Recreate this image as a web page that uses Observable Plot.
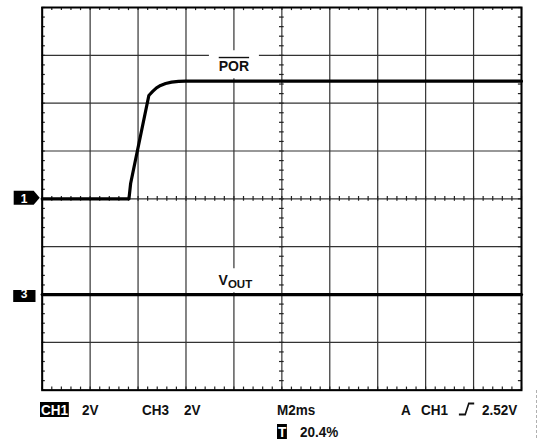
<!DOCTYPE html>
<html><head><meta charset="utf-8">
<script src="https://cdn.jsdelivr.net/npm/d3@7"></script>
<script src="https://cdn.jsdelivr.net/npm/@observablehq/plot@0.6"></script>
<style>
body{margin:0;background:#fff;font-family:"Liberation Sans",Arial,sans-serif;}
#wrap{position:relative;width:538px;height:446px;overflow:hidden;}
#cap{position:absolute;left:0;top:392px;width:538px;height:54px;font-weight:bold;font-size:15px;color:#111;}
#cap span{position:absolute;line-height:15px;white-space:pre;transform:scaleX(0.9);transform-origin:left center;}
#cap .inv{background:#000;color:#fff;padding:0 1px;}
#dots{position:absolute;left:536px;top:390px;height:48px;border-left:1px dashed #b0b0b0;}
</style></head><body>
<div id="wrap"><div id="chart"></div>
<div id="cap">
<span class="inv" style="left:40px;top:10px">CH1</span>
<span style="left:82px;top:10px">2V</span>
<span style="left:142px;top:10px">CH3</span>
<span style="left:184px;top:10px">2V</span>
<span style="left:277px;top:10px">M2ms</span>
<span style="left:401px;top:10px">A</span>
<span style="left:421px;top:10px">CH1</span>
<span style="left:458px;top:10px"><svg width="20" height="14" viewBox="0 0 20 14"><path d="M1,12.5 H8 L12,1.5 H18" fill="none" stroke="#111" stroke-width="1.8"/></svg></span>
<span style="left:482px;top:10px">2.52V</span>
<span class="inv" style="left:277px;top:32px">T</span>
<span style="left:300px;top:32px">20.4%</span>
</div>
<div id="dots"></div>
</div>
<script>
// POR trace (CH1), time in ms, volts
const porTimeMs = [0, 3.62, 3.69, 4.45, 4.61, 4.77, 4.94, 5.15, 5.40, 5.69, 5.98, 20];
const porVolts  = [0, 0,    0.64, 4.32, 4.49, 4.64, 4.74, 4.82, 4.88, 4.91, 4.92, 4.92];
// VOUT trace (CH3)
const voutTimeMs = [0, 20];
const voutVolts  = [0, 0];
// channel settings
const voltsPerDiv = 2;
const ch1OffsetDiv = 0;
const ch3OffsetDiv = -2;
// graticule
const gridTimeMs = [0, 2, 4, 6, 8, 10, 12, 14, 16, 18, 20];
const gridDiv = [-4, -3, -2, -1, 0, 1, 2, 3, 4];
// annotations
const labelTimeMs = [8, 8];
const labelDiv = [2.77, -1.70];
const channelNames = ["1", "3"];
const channelOffsets = [ch1OffsetDiv, ch3OffsetDiv];

const por = porTimeMs.map((t, i) => ({t, d: ch1OffsetDiv + porVolts[i] / voltsPerDiv}));
const vout = voutTimeMs.map((t, i) => ({t, d: ch3OffsetDiv + voutVolts[i] / voltsPerDiv}));
const markers = channelNames.map((name, i) => ({name, d: channelOffsets[i]}));

const minorT = d3.range(0, 20.001, 0.4);
const minorD = d3.range(-4, 4.001, 0.2);
const tLen = 0.13, dLen = 0.065;

const boxSymbol = (w, h) => ({draw(ctx) { ctx.rect(-w / 2, -h / 2, w, h); }});
const pentagon = {draw(ctx) { ctx.moveTo(-28.5, -7); ctx.lineTo(-8.5, -7); ctx.lineTo(-2.5, 0); ctx.lineTo(-8.5, 7); ctx.lineTo(-28.5, 7); ctx.closePath(); }};
const square = {draw(ctx) { ctx.rect(-29, -5.5, 22.3, 12); }};

const gridStyle = {stroke: "#333", strokeWidth: 1.2};
const tickStyle = {stroke: "#222", strokeWidth: 1.2};

const plot = Plot.plot({
  width: 538, height: 392,
  marginLeft: 41.7, marginRight: 17, marginTop: 7, marginBottom: 2.3,
  x: {domain: [0, 20], axis: null},
  y: {domain: [-4, 4], axis: null},
  style: {background: "white", fontFamily: "'Liberation Sans', Arial, sans-serif"},
  marks: [
    Plot.ruleX(gridTimeMs, {x: d => d, ...gridStyle}),
    Plot.ruleY(gridDiv, {y: d => d, ...gridStyle}),
    // minor ticks on frame edges and centre lines
    Plot.ruleX(minorT, {x: d => d, y1: 4, y2: 4 - dLen, ...tickStyle}),
    Plot.ruleX(minorT, {x: d => d, y1: -4, y2: -4 + dLen, ...tickStyle}),
    Plot.ruleX(minorT, {x: d => d, y1: -dLen * 0.75, y2: dLen * 0.75, ...tickStyle}),
    Plot.ruleY(minorD, {y: d => d, x1: 0, x2: tLen, ...tickStyle}),
    Plot.ruleY(minorD, {y: d => d, x1: 20, x2: 20 - tLen, ...tickStyle}),
    Plot.ruleY(minorD, {y: d => d, x1: 10 - tLen * 0.75, x2: 10 + tLen * 0.75, ...tickStyle}),
    // label backgrounds
    Plot.dot([0], {x: labelTimeMs[0], y: labelDiv[0], symbol: boxSymbol(50, 28), fill: "white", stroke: "none", dy: -2}),
    Plot.dot([0], {x: labelTimeMs[1], y: labelDiv[1], symbol: boxSymbol(50, 24), fill: "white", stroke: "none", dx: 2}),
    // traces
    Plot.line(por, {x: "t", y: "d", stroke: "black", strokeWidth: 3.2, strokeLinejoin: "round", curve: "linear"}),
    Plot.line(vout, {x: "t", y: "d", stroke: "black", strokeWidth: 3.2}),
    // labels
    Plot.text(["POR"], {x: labelTimeMs[0], y: labelDiv[0], text: d => d, fontSize: 14, fontWeight: "bold", fill: "#111", className: "por"}),
    Plot.text(["V"], {x: labelTimeMs[1], y: labelDiv[1], text: d => d, fontSize: 14, fontWeight: "bold", fill: "#111", textAnchor: "end", dx: -6}),
    Plot.text(["OUT"], {x: labelTimeMs[1], y: labelDiv[1], text: d => d, fontSize: 11.5, fontWeight: "bold", fill: "#111", textAnchor: "start", dx: -6, dy: 4}),
    // channel markers
    Plot.dot(markers.slice(0, 1), {x: 0, y: "d", symbol: pentagon, fill: "black", stroke: "none", dy: -1}),
    Plot.dot(markers.slice(1), {x: 0, y: "d", symbol: square, fill: "black", stroke: "none", dy: 1}),
    Plot.text(markers, {x: 0, y: "d", text: "name", fill: "white", fontSize: 12, fontWeight: "bold", dx: -18, dy: 0}),
    Plot.frame({stroke: "black", strokeWidth: 2})
  ]
});
d3.select(plot).selectAll("g.por text").attr("text-decoration", "overline");
document.getElementById("chart").appendChild(plot);
</script>
</body></html>
